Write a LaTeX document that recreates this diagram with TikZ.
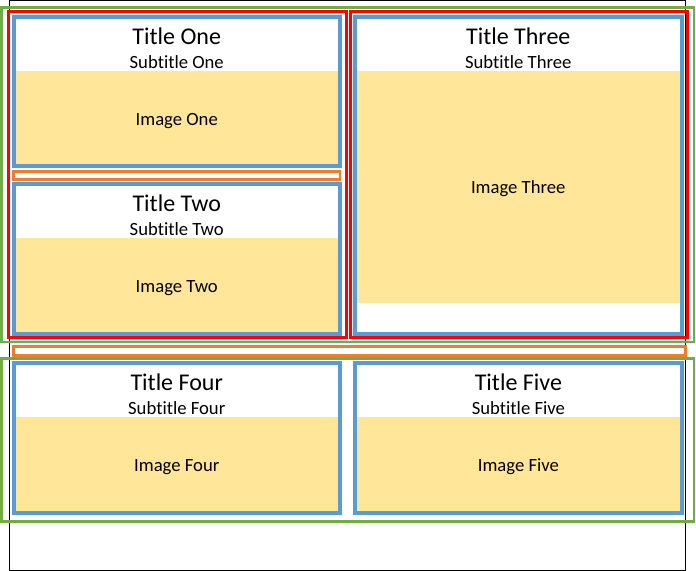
\documentclass[tikz,border=0pt]{standalone}
\usepackage{fontspec}
\setmainfont{Carlito}[Ligatures=NoCommon]
\usepackage{xcolor}
\usepackage{tikz}
\usetikzlibrary{positioning, calc}
\definecolor{panelblue}{HTML}{5B9BD5}
\definecolor{imageyellow}{HTML}{FFE699}
\definecolor{rowgreen}{HTML}{70AD47}
\definecolor{gaporange}{HTML}{ED7D31}
\definecolor{colred}{HTML}{FF0000}

\begin{document}
\begin{tikzpicture}[x=0.75pt, y=-0.75pt,
	pagebox/.style={draw=black, line width=0.75pt},
	rowbox/.style={draw=rowgreen, line width=2pt},
	colbox/.style={draw=colred, line width=2.25pt},
	gapbox/.style={draw=gaporange, line width=2pt},
	panelbox/.style={draw=panelblue, line width=3pt},
	imagefill/.style={fill=imageyellow},
	titletext/.style={font=\fontsize{18}{22}\selectfont, anchor=base, inner sep=0pt},
	subtext/.style={font=\fontsize{14}{17}\selectfont, anchor=base, inner sep=0pt}]
	\useasboundingbox (0,0) rectangle (696,571);
	\pgfmathsetmacro{\headh}{54}
	
	\draw[pagebox] (9.8,0.5) rectangle (685.2,570);
	
	\draw[rowbox] (1.3,7.3) rectangle (694,342);
	\draw[rowbox] (1.3,358.7) rectangle (694,521.7);
	
	\draw[colbox] (8.7,11.7) rectangle (346.4,337);
	\draw[colbox] (350.7,11.7) rectangle (687.7,337);
	
	\draw[gapbox] (13.3,171.3) rectangle (340,179.7);
	\draw[gapbox] (13.3,346.2) rectangle (685.3,355.3);
	
	\foreach \name/\xa/\ya/\xb/\yb/\yc/\word in {one/13.5/17/340/166.3/166.3/One, two/13.5/184/340/333.7/333.7/Two, three/354.8/17/681.7/333.7/302.7/Three, four/13.5/362.7/340/512.7/512.7/Four, five/354.8/362.7/682/512.7/512.7/Five}{
		\fill[imagefill] (\xa,\ya+\headh) rectangle (\xb,\yc);
		\draw[panelbox] (\xa,\ya) rectangle (\xb,\yb);
		\node[titletext] (title-\name) at ({(\xa+\xb)/2},\ya+27.5) {Title \word};
		\node[subtext] (subtitle-\name) at ({(\xa+\xb)/2},\ya+51.5) {Subtitle \word};
		\node[subtext] (image-\name) at ({(\xa+\xb)/2},{(\ya+\headh+\yc)/2+7}) {Image \word};
	}
\end{tikzpicture}
\end{document}
